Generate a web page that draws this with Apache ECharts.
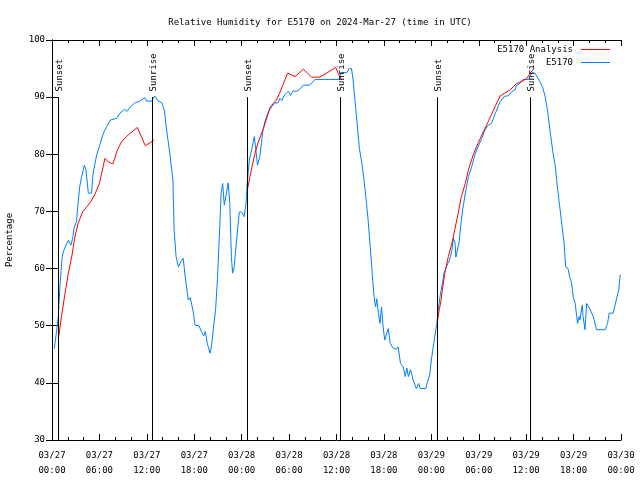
<!DOCTYPE html>
<html>
<head>
<meta charset="utf-8">
<script src="https://cdn.jsdelivr.net/npm/echarts@6/dist/echarts.min.js"></script>
<style>html,body{margin:0;padding:0;background:#fff}#c{width:640px;height:480px}</style>
</head>
<body>
<div id="c"></div>
<script>
// Hours since 03/27 00:00 UTC
const blueHours = [0.3,0.6,0.8,1.0,1.15,1.3,1.5,1.75,2.05,2.4,2.65,2.8,3.1,3.3,3.5,3.75,4.1,4.3,4.6,5.0,5.2,5.65,6.05,6.5,6.9,7.4,8.2,8.6,9.2,9.5,9.85,10.5,11.1,11.75,12.0,12.6,13.0,13.45,13.9,14.2,14.5,14.9,15.3,15.45,15.7,16.0,16.3,16.6,16.9,17.25,17.5,17.9,18.1,18.6,18.9,19.2,19.4,19.65,20.0,20.2,20.4,20.7,20.95,21.25,21.4,21.6,21.8,22.0,22.3,22.5,22.7,22.85,23.05,23.4,23.7,24.0,24.3,24.55,24.7,24.97,25.3,25.6,25.8,26.0,26.3,26.5,26.7,27.0,27.4,27.8,28.2,28.6,28.85,29.1,29.35,29.6,29.9,30.2,30.5,30.9,31.3,31.8,32.6,33.3,36.3,36.6,37.3,37.6,37.9,38.1,38.3,38.5,38.7,38.9,39.2,39.4,39.6,39.8,40.0,40.2,40.4,40.6,40.8,40.95,41.1,41.3,41.5,41.7,41.9,42.1,42.55,42.8,43.2,43.6,43.8,44.1,44.45,44.7,44.9,45.1,45.35,45.55,45.7,46.1,46.4,46.6,47.3,47.5,47.8,48.0,48.3,48.7,48.9,49.1,49.4,49.6,49.9,50.3,50.6,50.8,51.0,51.1,51.3,51.5,51.7,51.97,52.3,52.7,53.1,53.5,53.9,54.4,54.8,55.2,55.6,55.85,56.2,56.7,57.3,57.7,58.2,58.6,58.8,59.2,59.6,60.3,60.7,61.1,61.3,61.75,62.1,62.4,62.7,63.0,63.4,63.7,63.9,64.2,64.5,64.8,65.0,65.3,65.5,65.75,65.95,66.2,66.35,66.5,66.7,66.8,67.1,67.2,67.45,67.65,68.1,68.5,68.9,70.0,70.3,70.5,71.0,71.4,71.7,71.9];
const blueValues = [46.0,49.3,51.6,56.8,59.7,62.1,63.2,64.0,64.9,64.1,65.6,67.2,68.2,71.4,74.3,76.1,78.1,77.3,73.2,73.2,76.7,79.9,81.6,83.7,84.8,86.0,86.3,87.2,87.9,87.5,88.2,89.0,89.3,89.9,89.3,89.3,90.2,89.3,89.0,87.8,84.3,80.2,75.5,66.8,62.1,60.3,61.2,61.8,58.0,54.5,54.9,52.2,50.1,50.0,49.0,48.2,49.0,46.9,45.2,46.6,49.3,52.8,58.6,67.9,73.2,74.9,71.1,71.1,75.0,71.4,62.1,59.2,60.3,65.6,69.9,69.9,69.1,71.4,74.9,79.0,81.0,83.1,80.8,78.1,79.6,81.9,84.3,86.0,87.5,88.3,89.0,89.0,89.8,89.4,90.2,90.6,91.0,90.3,91.1,91.0,91.3,92.1,92.1,93.1,93.1,94.3,94.3,95.0,95.0,93.0,90.0,87.0,84.0,81.0,78.5,76.5,74.0,71.4,68.5,65.0,61.5,57.5,54.5,53.3,54.7,52.2,50.4,53.3,49.8,47.5,49.5,46.9,46.0,45.9,46.3,43.4,42.8,41.1,42.6,41.1,42.3,41.4,40.5,39.0,39.9,39.0,39.0,40.1,41.4,44.0,46.9,50.4,53.0,55.1,57.4,59.2,60.3,61.5,63.2,65.3,64.5,62.0,62.0,64.5,67.3,70.3,73.2,76.1,77.8,79.9,81.3,82.8,84.3,85.1,85.4,86.3,87.5,89.2,90.2,90.2,91.0,91.3,92.1,92.4,93.1,93.1,94.2,94.2,94.0,92.7,91.7,90.1,87.7,84.3,80.2,77.8,74.9,71.4,67.9,64.4,60.3,60.0,58.6,57.4,55.1,53.9,53.9,50.4,51.6,51.0,53.6,51.6,49.3,53.9,52.8,51.6,49.3,49.3,50.4,52.2,52.2,54.5,56.2,58.9];

const redHours = [0.8,1.2,1.65,2.07,2.5,2.9,3.3,3.9,4.4,4.9,5.4,6.0,6.7,7.1,7.7,8.3,8.8,9.65,10.8,11.8,12.4,12.9,
  18.0,
  24.75,25.05,25.4,25.8,26.2,26.7,27.1,27.6,28.0,28.4,28.8,29.3,29.8,30.3,30.75,31.8,32.85,33.9,34.75,35.9,36.2,36.65,
  42.0,
  48.8,49.0,49.2,49.4,49.7,50.15,50.6,51.0,51.4,51.8,52.3,52.7,53.3,53.9,54.6,55.2,55.6,56.05,56.7,57.3,57.95,58.8,59.4,60.1,60.5,61.0];
const redValues = [47.6,51.6,55.7,59.2,62.1,65.6,67.9,70.0,70.8,71.7,72.9,74.9,79.3,78.7,78.3,80.8,82.2,83.4,84.7,81.5,82.0,82.5,
  null,
  74.0,76.1,78.4,80.8,82.5,84.3,86.0,88.2,88.9,89.5,90.7,92.4,94.2,93.9,93.6,94.9,93.5,93.5,94.2,95.2,94.2,93.0,
  null,
  51.0,52.8,54.2,56.3,59.2,62.1,64.4,67.0,69.7,72.6,74.9,77.3,79.9,81.9,84.0,85.7,86.9,88.3,90.2,90.7,91.25,92.4,92.7,93.3,94.2,95.0];

const sunHours = [0.75, 12.6, 24.7, 36.5, 48.75, 60.5];
const sunLabels = ['Sunset','Sunrise','Sunset','Sunrise','Sunset','Sunrise'];

const xTickLabels = ['03/27\n00:00','03/27\n06:00','03/27\n12:00','03/27\n18:00','03/28\n00:00','03/28\n06:00','03/28\n12:00','03/28\n18:00','03/29\n00:00','03/29\n06:00','03/29\n12:00','03/29\n18:00','03/30\n00:00'];

const FONT = 'DejaVu Sans Mono';
const FS = 9;

const blueData = blueHours.map((h,i)=>[h, blueValues[i]]);
const redData = redHours.map((h,i)=>[h, redValues[i]]);
const sunData = sunHours.map((h,i)=>[h, i]);

const chart = echarts.init(document.getElementById('c'), null, {renderer:'canvas'});

const axisCommonX = {
  type:'value', min:0, max:72, interval:6,
  axisLine:{show:true, lineStyle:{color:'#000', width:1}},
  axisTick:{show:true, inside:true, length:6, lineStyle:{color:'#000'}},
  minorTick:{show:true, splitNumber:3, length:3, lineStyle:{color:'#000'}},
  splitLine:{show:false}, minorSplitLine:{show:false}
};
const axisCommonY = {
  type:'value', min:30, max:100, interval:10,
  axisLine:{show:true, lineStyle:{color:'#000', width:1}},
  axisTick:{show:true, inside:true, length:6, lineStyle:{color:'#000'}},
  splitLine:{show:false}
};

chart.setOption({
  animation:false,
  backgroundColor:'#fff',
  title:{
    text:'Relative Humidity for E5170 on 2024-Mar-27 (time in UTC)',
    left:'center', top:13,
    textStyle:{fontFamily:FONT, fontSize:FS, fontWeight:'normal', color:'#000'}
  },
  grid:{left:52, right:19, top:40, bottom:40, containLabel:false, outerBoundsMode:'none'},
  legend:[
    {data:['E5170 Analysis'], right:30, top:45, orient:'vertical', align:'right', padding:0,
     icon:'rect', itemWidth:29, itemHeight:1, itemGap:0,
     textStyle:{fontFamily:FONT, fontSize:FS, color:'#000', padding:[0,3,0,0]}},
    {data:['E5170'], right:30, top:58, orient:'vertical', align:'right', padding:0,
     icon:'rect', itemWidth:29, itemHeight:1, itemGap:0,
     textStyle:{fontFamily:FONT, fontSize:FS, color:'#000', padding:[0,3,0,0]}}
  ],
  xAxis:[
    Object.assign({}, axisCommonX, {position:'bottom',
      axisLabel:{show:true, margin:8, lineHeight:15, fontFamily:FONT, fontSize:FS, color:'#000',
        formatter:function(v){ return xTickLabels[Math.round(v/6)]; }}}),
    Object.assign({}, axisCommonX, {position:'top', axisLabel:{show:false}})
  ],
  yAxis:[
    Object.assign({}, axisCommonY, {position:'left',
      name:'Percentage', nameLocation:'middle', nameRotate:90, nameGap:38,
      nameTextStyle:{fontFamily:FONT, fontSize:FS, color:'#000'},
      axisLabel:{show:true, margin:7, fontFamily:FONT, fontSize:FS, color:'#000'}}),
    Object.assign({}, axisCommonY, {position:'right', axisLabel:{show:false}})
  ],
  series:[
    {
      name:'E5170 Analysis', type:'line', data:redData, xAxisIndex:0, yAxisIndex:0,
      showSymbol:false, symbol:'none', connectNulls:false,
      lineStyle:{color:'#ff0000', width:1}, itemStyle:{color:'#ff0000'}, z:3
    },
    {
      name:'E5170', type:'line', data:blueData, xAxisIndex:0, yAxisIndex:0,
      showSymbol:false, symbol:'none',
      lineStyle:{color:'#0080ff', width:1}, itemStyle:{color:'#0080ff'}, z:2
    },
    {
      name:'sun', type:'custom', data:sunData, xAxisIndex:0, yAxisIndex:0, z:4,
      renderItem:function(params, api){
        const h = api.value(0);
        const p0 = api.coord([h, 30]);
        const p1 = api.coord([h, 90]);
        const pt = api.coord([h, 91]);
        const x = Math.round(p0[0]) + 0.5;
        return {type:'group', children:[
          {type:'line', shape:{x1:x, y1:p0[1], x2:x, y2:p1[1]}, style:{stroke:'#000', lineWidth:1}},
          {type:'text', x:x+1.5, y:pt[1], rotation:Math.PI/2,
           style:{text:sunLabels[params.dataIndex], fontFamily:FONT, fontSize:FS, fill:'#000', align:'left', verticalAlign:'middle'}}
        ]};
      }
    }
  ]
});
</script>
</body>
</html>
